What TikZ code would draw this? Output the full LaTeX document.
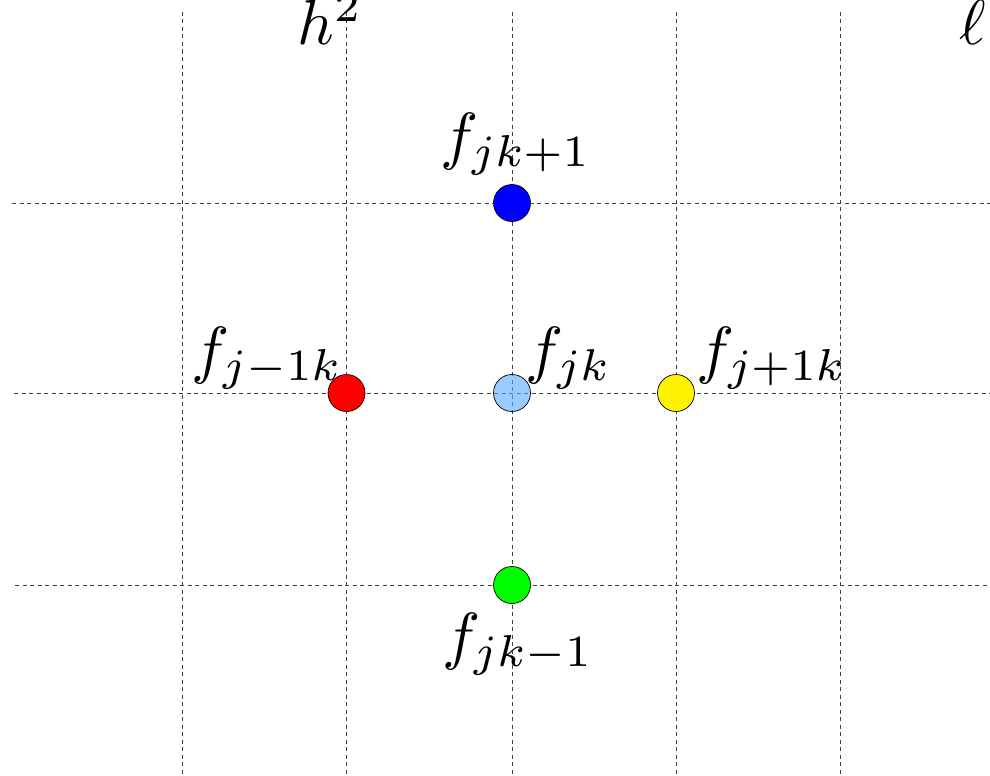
\documentclass[tikz,border=0pt]{standalone}
\definecolor{lblue}{RGB}{85,170,255}
\tikzset{
  gridline/.style={line width=0.9bp, black!75, dash pattern=on 4bp off 3.5bp},
  dot/.style={circle, draw=black, line width=0.7bp, minimum size=37bp, inner sep=0pt},
  lab/.style={inner sep=0pt, anchor=base west, scale=6.4},
}
\begin{document}
\begin{tikzpicture}[x=1bp, y=-1bp]
\useasboundingbox (0,0) rectangle (990,776);
\clip (0,0) rectangle (990,776);
% vertical grid lines
\foreach \i/\x in {1/182,2/346.5,3/512,4/676,5/840}{
  \coordinate (vt\i) at (\x,12);
  \coordinate (vb\i) at (\x,780);
  \draw[gridline] (vt\i) -- (vb\i);
}
% horizontal grid lines
\foreach \i/\y/\s in {1/203/12,2/393/14,3/585/15}{
  \coordinate (hl\i) at (\s,\y);
  \coordinate (hr\i) at (995,\y);
  \draw[gridline] (hl\i) -- (hr\i);
}
% points
\node[dot, fill=blue] (top) at (512,203) {};
\node[dot, fill=green] (bot) at (512,585) {};
\node[dot, fill=red] (left) at (346.5,393) {};
\node[dot, fill=yellow] (right) at (676,393) {};
\node[dot, fill=lblue, fill opacity=0.6, text opacity=1] (mid) at (512,393) {};
% labels
\node[lab] (ltop) at (439,157) {$f_{jk+1}$};
\node[lab] (lbot) at (441,657) {$f_{jk-1}$};
\node[lab] (lmid) at (524,371) {$f_{jk}$};
\node[lab] (lleft) at (190,371) {$f_{j-1k}$};
\node[lab] (lright) at (695,371) {$f_{j+1k}$};
\node[lab] (h2) at (296,45) {$h^2$};
\node[lab] (ell) at (958,45) {$\ell$};
\end{tikzpicture}
\end{document}
